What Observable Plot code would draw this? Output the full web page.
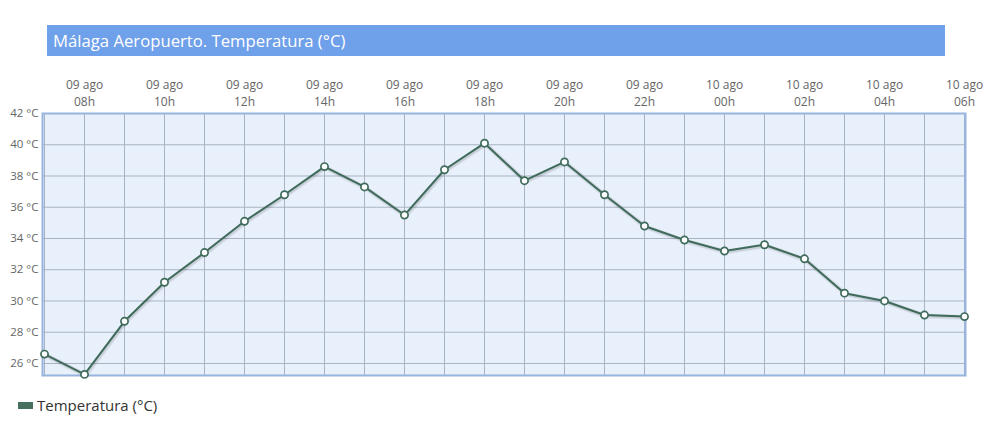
<!DOCTYPE html>
<html>
<head>
<meta charset="utf-8">
<script src="https://cdn.jsdelivr.net/npm/d3@7"></script>
<script src="https://cdn.jsdelivr.net/npm/@observablehq/plot@0.6"></script>
<style>
  html, body { margin: 0; padding: 0; background: #fff; }
  body { width: 996px; height: 444px; position: relative; overflow: hidden; font-family: "Open Sans", sans-serif; }
  #title { position: absolute; left: 47px; top: 25px; width: 898px; height: 31px; background: #6fa0ea;
           color: #fff; font-size: 16.7px; line-height: 31px; padding-left: 6px; box-sizing: border-box; }
  #chart { position: absolute; left: 0; top: 65px; }
  #legend { position: absolute; left: 18px; top: 395px; font-size: 15px; color: #333; display: flex; align-items: center; }
  #legend .sw { width: 15px; height: 7px; background: #47705f; margin-right: 4px; }
</style>
</head>
<body>
<div id="title">Málaga Aeropuerto. Temperatura (°C)</div>
<div id="chart"></div>
<div id="legend"><span class="sw"></span><span>Temperatura (°C)</span></div>
<script>
const days  = ["09 ago","09 ago","09 ago","09 ago","09 ago","09 ago","09 ago","09 ago","09 ago","09 ago","09 ago","09 ago",
               "09 ago","09 ago","09 ago","09 ago","09 ago","10 ago","10 ago","10 ago","10 ago","10 ago","10 ago","10 ago"];
const hours = ["07h","08h","09h","10h","11h","12h","13h","14h","15h","16h","17h","18h",
               "19h","20h","21h","22h","23h","00h","01h","02h","03h","04h","05h","06h"];
const temps = [26.6,25.3,28.7,31.2,33.1,35.1,36.8,38.6,37.3,35.5,38.4,40.1,
               37.7,38.9,36.8,34.8,33.9,33.2,33.6,32.7,30.5,30.0,29.1,29.0];
const yTicks = [26,28,30,32,34,36,38,40,42];

const keys = days.map((d, i) => d + "\n" + hours[i]);
const data = keys.map((k, i) => ({key: k, t: temps[i]}));
const labelKeys = keys.filter((k, i) => i % 2 === 1);
const color = "#3f6b5b";

const chart = Plot.plot({
  width: 996,
  height: 330,
  marginLeft: 42,
  marginRight: 31,
  marginTop: 48,
  marginBottom: 20,
  style: {fontFamily: "Open Sans, sans-serif", background: "transparent"},
  x: {type: "point", domain: keys, padding: 0},
  y: {domain: [25.23, 42]},
  marks: [
    Plot.frame({fill: "#e8f0fb", stroke: null}),
    Plot.gridX(keys, {stroke: "#a9b3c4", strokeOpacity: 1, strokeWidth: 1}),
    Plot.gridY(yTicks, {stroke: "#a9b3c4", strokeOpacity: 1, strokeWidth: 1}),
    Plot.frame({stroke: "#97b4de", strokeWidth: 2}),
    Plot.axisX(labelKeys, {anchor: "top", tickSize: 0, tickPadding: 8, fontSize: 12, lineHeight: 1.4, fill: "#666", label: null}),
    Plot.axisY(yTicks, {anchor: "left", tickSize: 0, tickPadding: 4, fontSize: 11.5, fill: "#666", label: null, tickFormat: d => d + " °C"}),
    Plot.line(data, {x: "key", y: "t", stroke: "#000", strokeOpacity: 0.06, strokeWidth: 5, dx: 1, dy: 1}),
    Plot.line(data, {x: "key", y: "t", stroke: "#000", strokeOpacity: 0.08, strokeWidth: 3, dx: 1, dy: 1}),
    Plot.line(data, {x: "key", y: "t", stroke: color, strokeWidth: 2}),
    Plot.dot(data, {x: "key", y: "t", r: 3.6, fill: "#fff", stroke: color, strokeWidth: 1.7})
  ]
});
document.getElementById("chart").appendChild(chart);
</script>
</body>
</html>
